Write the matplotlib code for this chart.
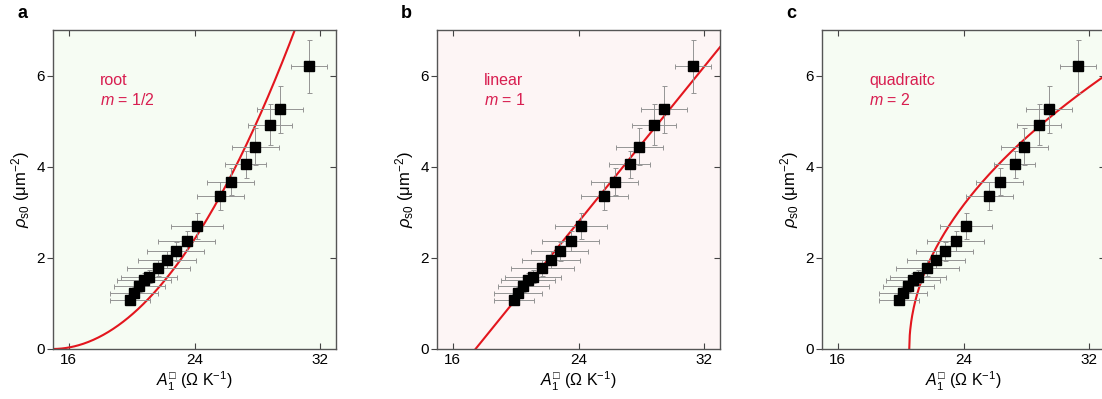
import numpy as np
import matplotlib
matplotlib.use('Agg')
import matplotlib.pyplot as plt

plt.rcParams['font.family'] = ['Liberation Sans', 'DejaVu Sans']
plt.rcParams['mathtext.fontset'] = 'custom'
plt.rcParams['mathtext.rm'] = 'Liberation Sans'
plt.rcParams['mathtext.it'] = 'Liberation Sans:italic'
plt.rcParams['mathtext.fallback'] = 'stixsans'

# data (same points in all three panels)
A1 = [19.9, 20.15, 20.5, 20.8, 21.1, 21.7, 22.27, 22.8, 23.5, 24.17,
      25.65, 26.3, 27.26, 27.87, 28.78, 29.42, 31.3]
rho = [1.08, 1.23, 1.39, 1.52, 1.59, 1.78, 1.96, 2.14, 2.37, 2.70,
       3.36, 3.67, 4.05, 4.44, 4.92, 5.26, 6.20]
A1_err = [1.3, 1.5, 1.6, 1.7, 1.8, 2.0, 1.85, 1.8, 1.8, 1.65,
          1.5, 1.5, 1.3, 1.5, 1.4, 1.45, 1.15]
rho_err = [0.12, 0.12, 0.13, 0.14, 0.15, 0.17, 0.18, 0.2, 0.23, 0.28,
           0.3, 0.3, 0.3, 0.4, 0.45, 0.52, 0.58]

# fit parameters
root_A0, root_k = 14.95, 0.0294      # rho = k (A - A0)^2
lin_A0, lin_k = 17.45, 0.426         # rho = k (A - A0)
quad_A0, quad_k = 20.55, 1.7         # rho = k sqrt(A - A0)

panel_letters = ['a', 'b', 'c']
fit_names = ['root', 'linear', 'quadraitc']
fit_m = ['1/2', '1', '2']
bg_colors = ['#f6fcf3', '#fdf5f5', '#f6fcf3']
ax_left_px = [53, 437, 822]

txt_col = '#d81e50'
line_col = '#e3161e'

fig = plt.figure(figsize=(11.02, 3.99), dpi=100)
W, H = 1102, 399

for i in range(3):
    ax = fig.add_axes([ax_left_px[i] / W, (H - 349) / H, 283 / W, 319 / H])
    ax.set_facecolor(bg_colors[i])
    ax.set_xlim(15, 33)
    ax.set_ylim(0, 7)

    xx = np.linspace(15, 33, 400)
    if i == 0:
        yy = root_k * np.clip(xx - root_A0, 0, None) ** 2
    elif i == 1:
        yy = lin_k * (xx - lin_A0)
    else:
        xx = np.linspace(quad_A0, 33, 400)
        yy = quad_k * np.sqrt(xx - quad_A0)
    ax.plot(xx, yy, color=line_col, lw=1.5, zorder=2)

    ax.errorbar(A1, rho, xerr=A1_err, yerr=rho_err, fmt='none',
                ecolor='#949494', elinewidth=0.7, capsize=1.8, capthick=0.7, zorder=3)
    ax.plot(A1, rho, 's', color='black', ms=7.5, zorder=4)

    ax.set_xticks([16, 24, 32])
    ax.set_yticks([0, 2, 4, 6])
    ax.tick_params(axis='x', direction='in', top=True, length=4, width=0.8,
                   labelsize=11, pad=3, color='#444444')
    ax.tick_params(axis='y', direction='out', length=4, width=0.8,
                   labelsize=11, pad=2, color='#444444')
    sec = ax.secondary_yaxis('right')
    sec.set_yticks([2, 4, 6])
    sec.tick_params(direction='in', length=4, width=0.8, labelright=False, color='#444444')
    sec.spines['right'].set_visible(False)
    for s in ax.spines.values():
        s.set_color('#555555')
        s.set_linewidth(1.0)

    ax.set_xlabel('$A_1^{□}$ ($\\Omega$ K$^{-1}$)', fontsize=11.5, labelpad=2)
    ax.set_ylabel(r'$\rho_{\rm s0}$ (μm$^{-2}$)', fontsize=12, labelpad=3)

    ax.text(0.167, 0.843, fit_names[i], transform=ax.transAxes, color=txt_col,
            fontsize=11.5, va='center', ha='left')
    ax.text(0.167, 0.78, r'$m$ = ' + fit_m[i], transform=ax.transAxes, color=txt_col,
            fontsize=11.5, va='center', ha='left')

    fig.text((ax_left_px[i] - 36) / W, 1 - 14 / H, panel_letters[i], fontsize=13,
             fontweight='bold', va='center', ha='left')

fig.savefig('out.png', dpi=100)
